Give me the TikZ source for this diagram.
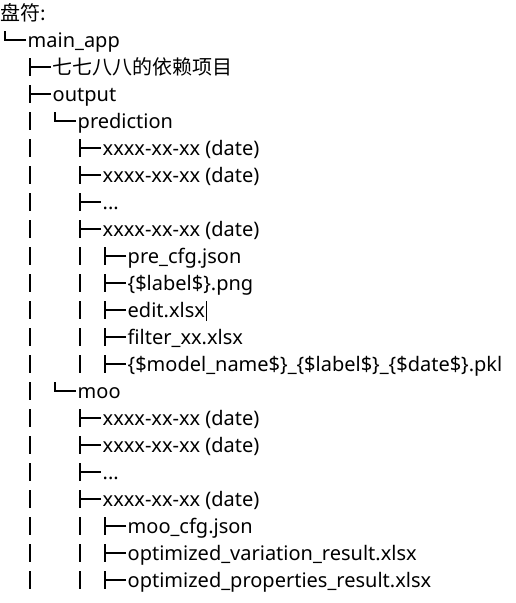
\documentclass[tikz,border=0pt]{standalone}
\usepackage{fontspec}
\setmainfont{Noto Sans}
\newfontfamily\cjk{Noto Sans CJK SC}
\usetikzlibrary{positioning}

\tikzset{
  entry/.style={anchor=base west, inner sep=0pt, font=\fontsize{20}{22}\selectfont},
  guide/.style={line width=1.3pt},
}

\begin{document}
\begin{tikzpicture}[x=1pt,y=-1pt]
\useasboundingbox (0,0) rectangle (515,603);
\node[entry] (drive) at (0,20) {\cjk 盘符:};
% name / kind / level / row / text
\foreach \nm/\kd/\lv/\rw/\txt in {
    main/L/1/2/{main\_app},
    deps/T/2/3/{\cjk 七七八八的依赖项目},
    output/T/2/4/{output},
    pred/L/3/5/{prediction},
    pa/T/4/6/{xxxx-xx-xx (date)},
    pb/T/4/7/{xxxx-xx-xx (date)},
    pdots/T/4/8/{...},
    pc/T/4/9/{xxxx-xx-xx (date)},
    cfg/T/5/10/{pre\_cfg.json},
    png/T/5/11/{\{\$label\$\}.png},
    edit/T/5/12/{edit.xlsx},
    filter/T/5/13/{filter\_xx.xlsx},
    pkl/T/5/14/{\{\$model\_name\$\}\_\{\$label\$\}\_\{\$date\$\}.pkl},
    moo/L/3/15/{moo},
    ma/T/4/16/{xxxx-xx-xx (date)},
    mb/T/4/17/{xxxx-xx-xx (date)},
    mdots/T/4/18/{...},
    mc/T/4/19/{xxxx-xx-xx (date)},
    mcfg/T/5/20/{moo\_cfg.json},
    var/T/5/21/{optimized\_variation\_result.xlsx},
    prop/T/5/22/{optimized\_properties\_result.xlsx}}
{
  \node[entry] (\nm) at ({27.5+25*(\lv-1)},{20+27*(\rw-1)}) {\txt};
  \if\kd L
    \draw[guide] (\nm.base west) ++(-1.5,-7) -- ++(-21,0) -- ++(0,-9.5);
  \else
    \draw[guide] (\nm.base west) ++(-1.5,-7) -- ++(-21,0) ++(0,-9) -- ++(0,18);
  \fi
}
% pass-through bars
\foreach \rw in {5,...,22}
  \draw[guide] (30,{4+27*(\rw-1)}) -- ++(0,18);
\foreach \rw in {10,...,14,20,21,22}
  \draw[guide] (80,{4+27*(\rw-1)}) -- ++(0,18);
% caret
\draw[line width=0.8pt] ([xshift=1.5pt,yshift=-4pt]edit.base east) -- ++(0,-20);
\end{tikzpicture}
\end{document}
